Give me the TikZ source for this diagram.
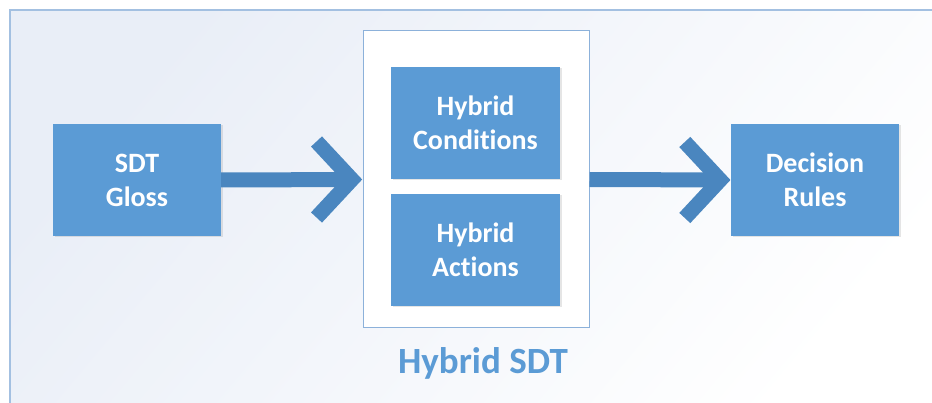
\documentclass[tikz,border=0pt]{standalone}
\usepackage{fontspec}
\setmainfont{Carlito}[Ligatures=NoCommon]
\usetikzlibrary{arrows.meta,shadows}
\definecolor{boxblue}{HTML}{5B9BD5}
\definecolor{arrowblue}{HTML}{4A86BF}
\definecolor{frameblue}{HTML}{A3C0E1}
\definecolor{groupblue}{HTML}{8CB1DA}
\definecolor{bgtop}{HTML}{E9EEF7}
\tikzset{
  stage/.style={fill=boxblue, text=white, align=center,
    font=\bfseries\fontsize{28}{34}\selectfont,
    minimum width=168pt, minimum height=112pt, inner sep=0pt,
    drop shadow={opacity=0.2, shadow xshift=1.5pt, shadow yshift=-1.5pt}},
  flow/.style={draw=arrowblue, line width=15pt, shorten >=12pt},
  head/.style={draw=arrowblue, line width=15pt, miter limit=4},
}
% chevron head ending at a node anchor
\newcommand\chevron[1]{%
  \draw[head] ([shift={(-46,-38)}]#1) -- ([xshift=-10.6]#1)
    -- ([shift={(-46,38)}]#1);}

\begin{document}
\begin{tikzpicture}[x=1pt, y=-1pt]
\useasboundingbox (0,0) rectangle (932,403);
\clip (0,0) rectangle (932,403);

% background panel
\shade[shading=axis, top color=bgtop, bottom color=white, shading angle=50]
  (10,10) rectangle (950,420);
\draw[frameblue, line width=2pt] (10,420) -- (10,10) -- (950,10);

% hybrid group
\node[draw=groupblue, fill=white, line width=1pt, minimum width=226pt,
  minimum height=297pt, inner sep=0pt] (hyb) at (476,179.5) {};
\node[stage, minimum width=169pt] (cond) at (475.5,123) {Hybrid\\Conditions};
\node[stage, minimum width=169pt] (act) at (475.5,250) {Hybrid\\Actions};
\node[text=boxblue, font=\bfseries\fontsize{37}{44}\selectfont]
  (hyblabel) at (483,363) {Hybrid SDT};

\node[stage] (gloss) at (137,180) {SDT\\Gloss};
\node[stage] (rules) at (815,180) {Decision\\Rules};

\draw[flow] (gloss.east) -- (hyb.west);
\chevron{hyb.west}
\draw[flow] (hyb.east) -- (rules.west);
\chevron{rules.west}
\end{tikzpicture}
\end{document}
